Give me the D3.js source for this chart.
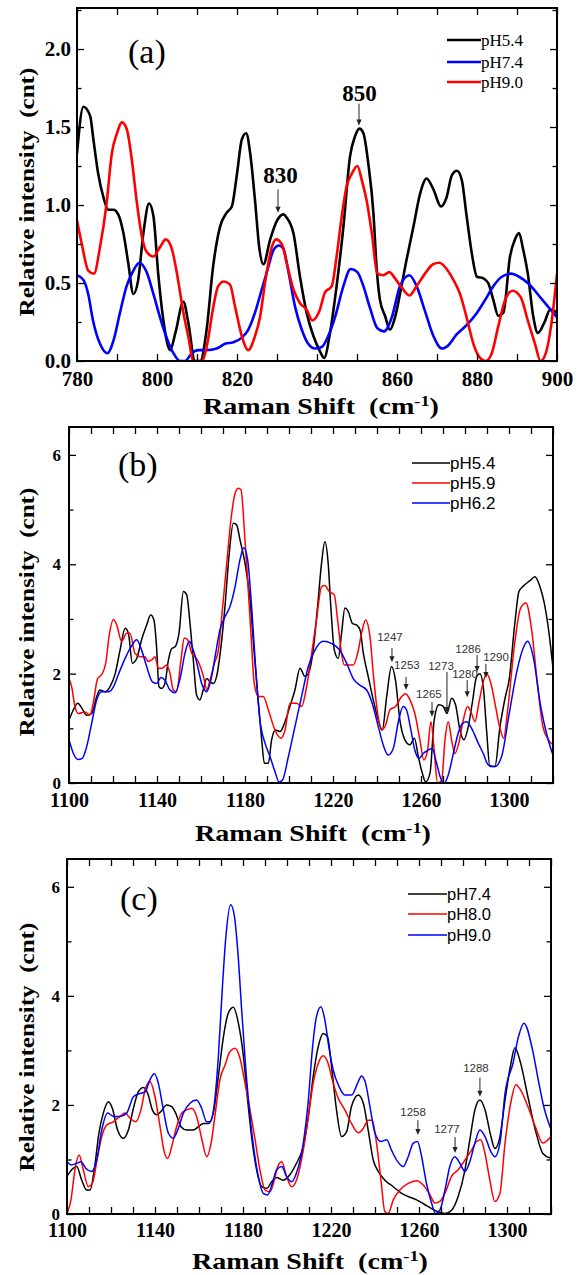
<!DOCTYPE html>
<html><head><meta charset="utf-8">
<script src="https://cdn.jsdelivr.net/npm/d3@7"></script>
<style>body{margin:0;background:#fff} svg{display:block}</style>
</head><body><svg id="chart" width="580" height="1275"></svg>
<script>
// ---------------- DATA ----------------
// Panel (a): Raman shift 780-900 cm-1
const a_pH54 = [[780,1.33],[781.6,1.63],[783.3,1.57],[784.1,1.42],[785.3,1.20],[786.6,1.05],[787.8,0.97],[789.1,0.97],[790.3,0.94],[791.6,0.82],[792.8,0.63],[794.1,0.43],[795.3,0.52],[796.6,0.82],[798,1.01],[799.1,0.93],[800.3,0.56],[801.6,0.26],[803.3,0.07],[804.6,0.18],[806.6,0.38],[807.8,0.25],[809.5,0],[810.8,0],[812.4,0.2],[814,0.60],[815.75,0.86],[817.4,0.95],[818.7,0.99],[820,1.20],[821.2,1.42],[822.3,1.46],[823.3,1.33],[824.5,1.03],[825.6,0.72],[826.6,0.62],[828.3,0.78],[830,0.90],[831.6,0.94],[832.4,0.92],[834.1,0.82],[835.75,0.54],[837.4,0.31],[839.1,0.16],[840.6,0.07],[841.8,0.02],[843.25,0.18],[844.9,0.48],[846.6,0.86],[848.25,1.31],[849.5,1.44],[850.6,1.49],[851.6,1.46],[852.8,1.27],[854.1,0.95],[854.9,0.60],[855.75,0.39],[857,0.29],[858.25,0.2],[859.5,0.28],[860.75,0.43],[862.4,0.65],[864.1,0.86],[865.75,1.07],[867.4,1.17],[869.1,1.10],[871,0.99],[872.4,1.05],[873.7,1.19],[875,1.22],[876.2,1.16],[877.4,0.93],[878.7,0.69],[880,0.54],[881.6,0.53],[882.8,0.50],[884.1,0.39],[885.3,0.29],[886.6,0.31],[888.25,0.67],[889.5,0.78],[890.5,0.82],[891.5,0.72],[892.7,0.56],[894.1,0.28],[895.2,0.18],[896.9,0.25],[898.3,0.33],[900,0.31]];
const a_pH74 = [[780,0.55],[781.6,0.52],[782.8,0.43],[784,0.26],[785.75,0.11],[787.6,0.05],[789.1,0.13],[790.75,0.31],[792.4,0.48],[794.1,0.58],[795.6,0.63],[797.4,0.57],[799.1,0.43],[800.75,0.28],[802.4,0.15],[804.1,0.05],[805.75,0],[807,0],[808.7,0.05],[810.3,0.07],[812.4,0.07],[814.9,0.08],[817,0.11],[819.1,0.12],[821.2,0.15],[822.8,0.2],[824.5,0.31],[826.2,0.46],[827.8,0.60],[829.1,0.71],[830.5,0.74],[831.6,0.72],[832.8,0.58],[834.5,0.35],[836.2,0.2],[837.8,0.11],[839.5,0.08],[841.2,0.09],[842.8,0.16],[844.5,0.28],[846.6,0.48],[848.4,0.59],[850.1,0.57],[851.6,0.48],[853.25,0.34],[855.1,0.21],[856.75,0.19],[858.7,0.28],[860.75,0.48],[863.1,0.55],[864.9,0.48],[867,0.32],[869.1,0.16],[871.2,0.08],[872.8,0.10],[874.9,0.17],[877.4,0.23],[880,0.31],[882,0.39],[884.1,0.48],[886.2,0.54],[888.5,0.56],[890.5,0.54],[892.7,0.50],[896.4,0.39],[900,0.28]];
const a_pH90 = [[780,0.90],[781.2,0.75],[782.8,0.58],[784.25,0.56],[785.75,0.73],[787.4,1.01],[788.7,1.33],[790,1.46],[791.2,1.53],[792.4,1.49],[793.7,1.29],[794.9,1.03],[796.2,0.80],[797.4,0.70],[799.1,0.67],[800.75,0.73],[802.2,0.78],[803.7,0.72],[805,0.56],[806.6,0.31],[807.8,0.16],[809.1,0],[811.2,0],[812.4,0.09],[814.1,0.35],[815.3,0.48],[816.75,0.51],[818.25,0.49],[819.5,0.35],[821.2,0.16],[822.8,0.07],[824.5,0.16],[825.75,0.28],[827,0.50],[828.7,0.73],[829.75,0.78],[831.2,0.75],[832.5,0.62],[834.1,0.46],[835.75,0.37],[837.4,0.33],[838.8,0.26],[840.6,0.32],[842,0.44],[843.7,0.48],[844.9,0.67],[846.2,0.93],[847.4,1.12],[848.7,1.20],[850.1,1.25],[851.2,1.16],[852.4,1.03],[853.7,0.82],[855.1,0.56],[856.6,0.55],[858.1,0.57],[859.5,0.53],[861.2,0.47],[863.1,0.42],[864.9,0.48],[867,0.56],[869,0.62],[870.6,0.63],[872.4,0.59],[874.1,0.52],[875.75,0.43],[877.4,0.28],[879.1,0.11],[880.75,0.02],[882.2,0],[883.7,0.05],[885.3,0.22],[887,0.39],[888.9,0.45],[890.9,0.41],[892.7,0.26],[894.5,0.11],[895.9,0],[897.2,0.05],[898.6,0.24],[900,0.56]];

// Panel (b): 1100-1320 cm-1
const b_pH54 = [[1100,1.15],[1102,1.34],[1104,1.46],[1105.8,1.37],[1108,1.24],[1110.3,1.27],[1112.6,1.58],[1114,1.70],[1116.4,1.67],[1118.6,1.76],[1121,2.0],[1123.2,2.43],[1125.5,2.83],[1127,2.74],[1128.8,2.19],[1130.8,2.28],[1133,2.62],[1135.3,2.89],[1137.1,3.07],[1138.6,2.98],[1139.8,2.49],[1140.9,1.76],[1142.1,1.73],[1143.6,1.82],[1145.2,2.25],[1146.7,2.46],[1148.2,2.49],[1150,2.74],[1152,3.5],[1153.5,3.44],[1155,2.92],[1156.5,2.25],[1158,1.61],[1159.5,1.52],[1161,1.70],[1162.6,1.91],[1164.1,1.85],[1165.6,1.82],[1167.1,1.95],[1168.9,2.43],[1170.9,3.23],[1172.7,4.14],[1174.7,4.75],[1176.2,4.72],[1177.7,4.45],[1180,4.02],[1182.3,3.35],[1184.2,2.37],[1186.1,1.46],[1187.6,0.79],[1188.8,0.36],[1190.6,0.36],[1192.1,0.79],[1193.9,0.97],[1195.9,0.94],[1198.2,1.12],[1200.4,1.40],[1202.7,1.70],[1205,2.10],[1207.2,1.95],[1208.8,2.0],[1211,2.43],[1213,3.23],[1214.8,4.02],[1216.3,4.41],[1217.8,4.02],[1219,3.23],[1220.6,2.43],[1222.4,2.28],[1223.9,2.74],[1225.4,3.2],[1227,3.13],[1228.8,2.92],[1230.7,2.89],[1232.3,2.80],[1233.8,2.37],[1236,1.95],[1238.3,1.52],[1240.6,1.15],[1242.4,0.97],[1244.4,1.58],[1246.6,2.13],[1248.4,1.88],[1250.4,1.15],[1252.7,0.79],[1255,0.70],[1257,0.82],[1258.8,0.48],[1260.6,0.18],[1262.1,0.02],[1264.1,0.18],[1266,1.15],[1268.1,1.43],[1270.1,1.40],[1271.8,1.27],[1273.9,1.55],[1275.7,1.43],[1277.7,0.97],[1279.5,0.79],[1281.5,1.03],[1283.3,1.46],[1285.3,1.95],[1286.8,2.0],[1288.3,1.76],[1289.8,0.97],[1291.3,0.30],[1293.6,0.30],[1295.9,1.03],[1298.2,1.55],[1300.1,1.9],[1302.6,2.9],[1304.5,3.5],[1306.5,3.6],[1309.5,3.7],[1311.8,3.77],[1314,3.6],[1316,3.3],[1318,2.8],[1320,2.1]];
const b_pH59 = [[1100,1.91],[1101.2,1.76],[1102.7,1.40],[1104.2,1.27],[1107.3,1.30],[1109.5,1.24],[1111,1.46],[1113,1.91],[1114.8,1.98],[1116.7,2.19],[1118.2,2.68],[1120.2,2.99],[1121.7,2.89],[1123.9,2.59],[1126.2,2.74],[1127.7,2.74],[1130,2.37],[1132.3,2.31],[1134.5,2.31],[1136,2.22],[1137.6,2.25],[1139.1,2.31],[1140.6,2.10],[1142.4,2.10],[1144.4,2.16],[1145.9,2.01],[1147.4,1.70],[1148.9,1.67],[1150.9,2.25],[1152.4,2.65],[1153.9,2.62],[1155.8,2.37],[1157.3,2.31],[1159.1,2.19],[1161.1,1.95],[1162.6,1.70],[1164.1,1.88],[1166.1,2.19],[1167.9,2.43],[1169.7,3.16],[1171.7,4.02],[1173.6,4.81],[1175.5,5.30],[1177,5.39],[1178.2,5.36],[1179.7,4.63],[1181.2,3.71],[1182.7,2.74],[1184.2,1.82],[1186.1,1.58],[1188.3,1.58],[1190.6,1.34],[1193.6,0.97],[1196.4,0.82],[1198.2,0.97],[1200.4,1.46],[1203.4,1.46],[1205.7,1.40],[1208,1.76],[1210.3,2.37],[1212.5,2.98],[1214.8,3.59],[1216.3,3.61],[1218.3,3.50],[1220.6,3.44],[1222.1,2.98],[1223.9,2.37],[1225.1,2.16],[1227,2.16],[1229.2,2.16],[1231.2,2.37],[1233,2.74],[1234.8,2.98],[1236.8,2.68],[1238.3,2.00],[1240.3,1.27],[1242.1,0.97],[1243.9,1.06],[1245.9,1.34],[1248.4,1.40],[1251.2,1.58],[1253,1.63],[1255,1.52],[1257.2,1.27],[1259.5,0.79],[1261.3,0.42],[1263,0.60],[1264.5,1.12],[1266,0.60],[1267.5,0],[1269.4,0.05],[1270.9,0.79],[1272.4,1.12],[1273.9,0.79],[1275.4,0.54],[1277.2,0.73],[1279.2,1.15],[1281.2,1.40],[1283,1.27],[1284.5,1.12],[1286.3,1.46],[1288.3,1.85],[1289.8,2.00],[1291.8,1.82],[1293.6,1.46],[1295.9,1.0],[1297.6,0.82],[1299.3,1.30],[1302.6,2.56],[1305.2,3.19],[1307.7,3.29],[1310.3,2.80],[1312.9,1.82],[1315.4,1.03],[1317.9,0.79],[1320,0.70]];
const b_pH62 = [[1100,0.79],[1102,0.54],[1104.2,0.43],[1106,0.45],[1108,0.66],[1110.3,1.09],[1112.6,1.52],[1114.8,1.67],[1117.9,1.67],[1120.2,1.76],[1122.4,1.98],[1125.5,2.28],[1128.2,2.49],[1130.8,2.62],[1133,2.43],[1135.3,2.13],[1137.9,1.85],[1139.8,1.82],[1141.8,1.93],[1143.6,1.88],[1145.9,1.70],[1148.2,1.65],[1150.5,1.91],[1152.7,2.37],[1154.7,2.59],[1156.5,2.43],[1158.5,2.13],[1160.3,1.82],[1162.6,1.67],[1164.5,1.88],[1166.4,2.31],[1168.6,2.80],[1170.9,3.04],[1173.2,3.23],[1175.5,3.59],[1177.7,4.08],[1179.5,4.30],[1181.2,4.08],[1183,3.23],[1184.8,2.13],[1186.8,1.15],[1189.1,0.73],[1191.4,0.48],[1193.6,0.21],[1195.5,0.02],[1197,0.05],[1199.7,0.48],[1202.7,1.03],[1205.7,1.58],[1208.8,2.13],[1211.8,2.43],[1215.6,2.59],[1219.4,2.55],[1223.1,2.43],[1226.2,2.19],[1229.2,1.91],[1232.2,1.79],[1235.3,1.70],[1237.8,1.46],[1240.6,1.03],[1242.8,0.70],[1245.1,0.51],[1247.4,0.63],[1249.7,1.12],[1251.9,1.40],[1253.4,1.34],[1255.4,0.97],[1257.2,0.60],[1259.2,0.45],[1261,0.54],[1263.3,0.60],[1265.1,0.63],[1267.1,0.36],[1268.9,0.09],[1270.6,0],[1272.4,0.15],[1274.7,0.54],[1276.9,0.91],[1278.9,1.09],[1280.7,1.12],[1283,1.00],[1286,0.73],[1288.3,0.54],[1290.6,0.33],[1293.6,0.30],[1296.6,0.48],[1300.1,1.27],[1303.4,2.01],[1306.8,2.50],[1308.5,2.59],[1311,2.31],[1314.4,1.40],[1317.8,0.79],[1320,0.51]];

// Panel (c): 1100-1320 cm-1
const c_pH74 = [[1100,0.69],[1102.1,0.81],[1104.4,0.87],[1106.7,0.62],[1108.9,0.44],[1110.5,0.44],[1112.4,0.81],[1114.5,1.48],[1116.5,1.85],[1118.8,2.06],[1120.6,1.94],[1123,1.54],[1125.6,1.39],[1127.9,1.54],[1130.2,1.94],[1132.4,2.24],[1134.7,2.32],[1136.7,2.21],[1138.8,1.91],[1140.8,1.82],[1142.7,1.88],[1145.3,2.0],[1147.6,1.97],[1149.4,1.85],[1151.8,1.60],[1154.4,1.54],[1157.4,1.54],[1159.7,1.60],[1162,1.66],[1164.2,1.66],[1166.5,1.85],[1168.8,2.52],[1171.1,3.25],[1173.3,3.68],[1175.6,3.79],[1177.9,3.50],[1180.2,2.89],[1182.1,2.09],[1183.9,1.42],[1186.2,0.81],[1188.5,0.50],[1190.8,0.47],[1193,0.59],[1195.3,0.67],[1198.3,0.62],[1201.3,0.72],[1204.3,0.93],[1207.4,1.24],[1209.7,1.79],[1211.9,2.52],[1214.2,3.07],[1216.5,3.31],[1218.4,3.25],[1220.3,2.69],[1222.5,1.91],[1224.8,1.42],[1227.1,1.51],[1229.3,1.97],[1232.4,2.18],[1234.7,2.03],[1236.9,1.54],[1239.2,0.99],[1241.5,0.78],[1244.5,0.62],[1248.3,0.50],[1252.1,0.38],[1255.1,0.32],[1258.9,0.26],[1262.7,0.17],[1265.7,0.10],[1268.7,0.04],[1271.8,0.01],[1274.8,0.07],[1277.8,0.32],[1280.9,0.81],[1283.1,1.36],[1285.4,1.91],[1287.7,2.09],[1290,1.91],[1292.7,1.42],[1294.5,1.20],[1296.8,1.42],[1299.1,2.09],[1301.5,2.7],[1303.6,3.05],[1306.1,2.78],[1309.5,2.15],[1312.9,1.54],[1316.3,1.11],[1320,1.02]];
const c_pH80 = [[1100,0.01],[1101.8,0.26],[1103.6,0.81],[1105.5,1.08],[1107.4,0.81],[1109.7,0.50],[1111.5,0.56],[1113.9,1.05],[1115.8,1.42],[1118,1.63],[1121.1,1.69],[1124.1,1.79],[1126.4,1.85],[1128.6,1.76],[1131.2,1.69],[1133.6,1.91],[1135.5,2.28],[1137.7,2.43],[1140,2.15],[1142.3,1.60],[1144.2,1.14],[1145.8,1.02],[1147.6,1.24],[1149.8,1.60],[1152.1,1.85],[1154.4,1.91],[1156.7,1.94],[1158.9,1.79],[1161.2,1.39],[1163.5,1.05],[1165.5,1.30],[1167.6,1.91],[1169.5,2.46],[1171.8,2.73],[1174.1,2.98],[1176.4,3.04],[1178.6,2.86],[1180.9,2.40],[1183.2,1.91],[1185.5,1.36],[1187.7,0.81],[1190,0.44],[1192.3,0.41],[1194.2,0.62],[1195.8,0.87],[1197.6,0.96],[1199.8,0.69],[1202.1,0.50],[1204.3,0.62],[1207.4,1.17],[1209.7,1.79],[1211.9,2.40],[1214.2,2.76],[1216.5,2.90],[1218.7,2.76],[1221,2.40],[1223.3,2.12],[1226.3,1.91],[1229.3,1.66],[1232.4,1.49],[1234.7,1.57],[1236.9,1.72],[1238.7,1.72],[1240.7,1.30],[1242.7,0.62],[1244.5,0.04],[1246,0.01],[1248.3,0.26],[1251.3,0.44],[1255.1,0.56],[1258.9,0.61],[1261.9,0.53],[1265,0.35],[1267.2,0.20],[1269.5,0.23],[1271.8,0.38],[1274.8,0.69],[1277.8,0.81],[1280.9,0.99],[1283.9,1.17],[1286.2,1.33],[1288.1,1.36],[1290,1.11],[1292.2,0.62],[1294.5,0.23],[1296.8,0.38],[1299.1,1.30],[1302,2.1],[1304,2.37],[1306.1,2.28],[1309.5,1.97],[1312.9,1.60],[1316.3,1.30],[1320,1.42]];
const c_pH90 = [[1100,0.96],[1102.1,0.90],[1104.4,0.93],[1106.4,0.96],[1108.5,0.84],[1111.2,0.78],[1113.5,0.99],[1115.8,1.54],[1118.5,1.85],[1121.1,1.79],[1124.1,1.79],[1127.1,1.85],[1130.2,2.15],[1133.2,2.21],[1135.5,2.24],[1137.7,2.46],[1139.7,2.57],[1141.5,2.40],[1143.8,1.91],[1146.1,1.48],[1148.3,1.39],[1150.6,1.57],[1152.9,1.85],[1155.9,2.03],[1158.9,2.09],[1161.2,1.94],[1163.5,1.69],[1165,1.69],[1167,2.03],[1168.8,2.89],[1170.3,3.93],[1172.1,5.03],[1174.4,5.67],[1176.1,5.46],[1177.6,4.84],[1179.4,3.74],[1181.2,2.70],[1183.2,1.79],[1185.2,1.11],[1187.3,0.62],[1189.2,0.38],[1191.2,0.35],[1193.3,0.56],[1195.3,0.81],[1197.6,0.87],[1199.8,0.69],[1202.1,0.59],[1204.3,0.75],[1207.4,1.30],[1209.7,2.09],[1211.5,3.01],[1213.4,3.62],[1215.4,3.80],[1217.2,3.56],[1219,3.07],[1221,2.64],[1223.6,2.34],[1226.3,2.18],[1229.3,2.18],[1232.1,2.40],[1233.9,2.53],[1235.7,2.40],[1237.7,1.97],[1240,1.48],[1242.7,1.33],[1245.3,1.36],[1247.5,1.17],[1250.3,0.96],[1252.8,0.87],[1255.1,1.05],[1257.4,1.30],[1259.3,1.33],[1261.2,1.05],[1263.4,0.56],[1265.7,0.20],[1267.5,0.01],[1269.5,0.07],[1271.8,0.44],[1274,0.87],[1276.3,1.05],[1278.6,0.93],[1280.9,0.78],[1283.1,0.96],[1285.4,1.30],[1287.7,1.54],[1290,1.42],[1292.7,1.14],[1294.5,1.05],[1296.8,1.30],[1299.1,2.21],[1302.7,2.76],[1305.2,3.25],[1307.7,3.50],[1311.6,3.01],[1314.2,2.46],[1316.7,1.97],[1320,1.55]];

// Tick values
const aXTicks = [780, 800, 820, 840, 860, 880, 900];
const aYTicks = [0, 0.5, 1.0, 1.5, 2.0];
const bcXTicks = [1100, 1140, 1180, 1220, 1260, 1300];
const bcYTicks = [0, 2, 4, 6];

// Legend labels
const aLegend = ["pH5.4", "pH7.4", "pH9.0"];
const bLegend = ["pH5.4", "pH5.9", "pH6.2"];
const cLegend = ["pH7.4", "pH8.0", "pH9.0"];

// Peak annotations: label, label position (x,y data), arrow x, arrow y from/to
const aPeaks = [["830", 830.9, 1.14, 830.25, 1.10, 0.95], ["850", 850.6, 1.67, 850.5, 1.65, 1.51]];
const bPeaks = [["1247",1245.9,2.60,1246.8,2.47,2.21],["1253",1253.6,2.09,1253.2,1.94,1.70],["1265",1263.6,1.55,1265,1.48,1.21],["1273",1269.1,2.07,1271.8,2.03,1.28],["1280",1280,1.92,1281,1.88,1.57],["1286",1281.4,2.38,1285.5,2.34,2.03],["1290",1294.1,2.23,1289.5,2.18,1.92]];
const cPeaks = [["1258",1257.3,1.80,1259.5,1.72,1.45],["1277",1272.7,1.49,1276.4,1.41,1.12],["1288",1285.9,2.61,1287.7,2.50,2.15]];

// ---------------- DRAWING ----------------
const svg = d3.select('#chart');
const serif = "'Liberation Serif','Times New Roman',Times,serif";
const sans = "'Liberation Sans',Arial,Helvetica,sans-serif";

const panels = [
  {id:'a', l:77, r:557, t:8, b:361, xDom:[780,900], yDom:[0,2.263], xTicks:aXTicks, yTicks:aYTicks,
   xMinorStep:10, yMinorStep:0.25, yFmt:d3.format('.1f'), xFontSize:21, yFontSize:21, yLabelRight:71,
   xLabelBase:386, titleBase:414, titleCx:321, yTitleCy:192, lw:2.6,
   series:[[a_pH54,'#000'],[a_pH74,'#0000ff'],[a_pH90,'#ff0000']], legend:aLegend, legendColors:['#000','#0000ff','#ff0000'],
   legX1:447, legX2:481, legY:[40,62,82], legFont:serif, legSize:17, legLW:2.6,
   tag:'(a)', tagX:128, tagY:63, peaks:aPeaks, peakFont:serif, peakSize:23, peakWeight:'bold', peakColor:'#000'},
  {id:'b', l:69, r:553, t:427, b:783, xDom:[1100,1320], yDom:[0,6.51], xTicks:bcXTicks, yTicks:bcYTicks,
   xMinorStep:10, yMinorStep:1, yFmt:d3.format('d'), xFontSize:20, yFontSize:17, yLabelRight:61,
   xLabelBase:807, titleBase:841, titleCx:313, yTitleCy:612, lw:1.5,
   series:[[b_pH54,'#000'],[b_pH59,'#ff0000'],[b_pH62,'#0000ff']], legend:bLegend, legendColors:['#000','#ff0000','#0000ff'],
   legX1:412, legX2:450, legY:[463,483,503], legFont:sans, legSize:17, legLW:1.5,
   tag:'(b)', tagX:118, tagY:476, peaks:bPeaks, peakFont:sans, peakSize:11.5, peakWeight:'normal', peakColor:'#333'},
  {id:'c', l:67, r:551, t:859, b:1214, xDom:[1100,1320], yDom:[0,6.51], xTicks:bcXTicks, yTicks:bcYTicks,
   xMinorStep:10, yMinorStep:1, yFmt:d3.format('d'), xFontSize:20, yFontSize:17, yLabelRight:60,
   xLabelBase:1237, titleBase:1269, titleCx:310, yTitleCy:1047, lw:1.5,
   series:[[c_pH74,'#000'],[c_pH80,'#ff0000'],[c_pH90,'#0000ff']], legend:cLegend, legendColors:['#000','#ff0000','#0000ff'],
   legX1:408, legX2:447, legY:[894,914,935], legFont:sans, legSize:16.5, legLW:1.5,
   tag:'(c)', tagX:120, tagY:910, peaks:cPeaks, peakFont:sans, peakSize:11.5, peakWeight:'normal', peakColor:'#333'}
];

function stretchText(sel, targetW) {
  const w = sel.node().getComputedTextLength();
  return w > 0 ? targetW / w : 1;
}

panels.forEach(p => {
  const x = d3.scaleLinear().domain(p.xDom).range([p.l, p.r]);
  const y = d3.scaleLinear().domain(p.yDom).range([p.b, p.t]);
  const g = svg.append('g');

  // clip
  const clipId = 'clip-' + p.id;
  svg.append('defs').append('clipPath').attr('id', clipId)
    .append('rect').attr('x', p.l).attr('y', p.t).attr('width', p.r - p.l).attr('height', p.b - p.t);

  // series
  const line = d3.line().x(d => x(d[0])).y(d => y(d[1])).curve(d3.curveMonotoneX);
  const sg = g.append('g').attr('clip-path', `url(#${clipId})`);
  p.series.forEach(([data, col]) => {
    sg.append('path').datum(data).attr('d', line).attr('fill', 'none')
      .attr('stroke', col).attr('stroke-width', p.lw).attr('stroke-linejoin', 'round');
  });

  // minor ticks values
  const xMinor = d3.range(p.xDom[0], p.xDom[1] + 1e-6, p.xMinorStep);
  const yMinor = d3.range(p.yDom[0], p.yDom[1] + 1e-6, p.yMinorStep);
  const isMajorY = v => p.yTicks.some(t => Math.abs(t - v) < 1e-6);

  // bottom axis (labels + major/minor ticks inside)
  const gb = g.append('g').attr('transform', `translate(0,${p.b})`)
    .call(d3.axisBottom(x).tickValues(xMinor).tickSize(-7).tickFormat(''));
  const gbl = g.append('g').attr('transform', `translate(0,${p.b})`)
    .call(d3.axisBottom(x).tickValues(p.xTicks).tickSize(0).tickFormat(d3.format('d')));
  gbl.selectAll('text').attr('y', p.xLabelBase - p.b).attr('dy', null)
    .attr('font-family', serif).attr('font-weight', 'bold').attr('font-size', p.xFontSize).attr('fill', '#000');
  // top axis
  const gt = g.append('g').attr('transform', `translate(0,${p.t})`)
    .call(d3.axisTop(x).tickValues(xMinor).tickSize(-7).tickFormat(''));
  // left axis minor
  const gl = g.append('g').attr('transform', `translate(${p.l},0)`)
    .call(d3.axisLeft(y).tickValues(yMinor.filter(v => !isMajorY(v))).tickSize(-4.5).tickFormat(''));
  const glM = g.append('g').attr('transform', `translate(${p.l},0)`)
    .call(d3.axisLeft(y).tickValues(p.yTicks).tickSize(-7).tickFormat(p.yFmt));
  glM.selectAll('text').attr('x', p.yLabelRight - p.l).attr('dy', '0.33em')
    .attr('font-family', serif).attr('font-weight', 'bold').attr('font-size', p.yFontSize).attr('fill', '#000');
  // right axis
  const gr = g.append('g').attr('transform', `translate(${p.r},0)`)
    .call(d3.axisRight(y).tickValues(yMinor.filter(v => !isMajorY(v))).tickSize(-4.5).tickFormat(''));
  const grM = g.append('g').attr('transform', `translate(${p.r},0)`)
    .call(d3.axisRight(y).tickValues(p.yTicks).tickSize(-7).tickFormat(''));
  [gb, gbl, gt, gl, glM, gr, grM].forEach(a => {
    a.select('.domain').remove();
    a.selectAll('line').attr('stroke', '#000').attr('stroke-width', 1.3);
  });

  // frame
  g.append('rect').attr('x', p.l).attr('y', p.t).attr('width', p.r - p.l).attr('height', p.b - p.t)
    .attr('fill', 'none').attr('stroke', '#000').attr('stroke-width', 2);

  // x title
  const xt = g.append('text').attr('font-family', serif).attr('font-weight', 'bold').attr('font-size', 23)
    .attr('fill', '#000').style('white-space', 'pre');
  xt.append('tspan').text('Raman Shift  (cm');
  xt.append('tspan').attr('font-size', 15).attr('dy', -8).text('-1');
  xt.append('tspan').attr('dy', 8).text(')');
  const sx = stretchText(xt, 236);
  xt.attr('transform', `translate(${p.titleCx - 118},${p.titleBase}) scale(${sx},1)`);

  // y title
  const yt = g.append('text').attr('font-family', serif).attr('font-weight', 'bold').attr('font-size', 22)
    .attr('fill', '#000').style('white-space', 'pre').text('Relative intensity  (cnt)');
  const sy = stretchText(yt, 249);
  yt.attr('transform', `translate(34,${p.yTitleCy}) rotate(-90) translate(-124.5,0) scale(${sy},1)`);

  // legend
  p.legend.forEach((lab, i) => {
    g.append('line').attr('x1', p.legX1).attr('x2', p.legX2).attr('y1', p.legY[i]).attr('y2', p.legY[i])
      .attr('stroke', p.legendColors[i]).attr('stroke-width', p.legLW);
    g.append('text').attr('x', p.legX2).attr('y', p.legY[i]).attr('dy', '0.35em')
      .attr('font-family', p.legFont).attr('font-size', p.legSize).attr('fill', '#000').text(lab);
  });

  // panel tag
  g.append('text').attr('x', p.tagX).attr('y', p.tagY).attr('font-family', serif).attr('font-size', 34)
    .attr('fill', '#000').text(p.tag);

  // peak annotations
  p.peaks.forEach(([lab, lx, ly, ax, ay1, ay2]) => {
    g.append('text').attr('x', x(lx)).attr('y', y(ly)).attr('text-anchor', 'middle')
      .attr('font-family', p.peakFont).attr('font-size', p.peakSize).attr('font-weight', p.peakWeight)
      .attr('fill', p.peakColor).text(lab);
    const px = x(ax), y1 = y(ay1), y2 = y(ay2);
    g.append('line').attr('x1', px).attr('x2', px).attr('y1', y1).attr('y2', y2 - 4)
      .attr('stroke', '#222').attr('stroke-width', 1);
    g.append('path').attr('d', `M${px - 2.6},${y2 - 6}L${px + 2.6},${y2 - 6}L${px},${y2}Z`).attr('fill', '#222');
  });
});
</script>
</body></html>
